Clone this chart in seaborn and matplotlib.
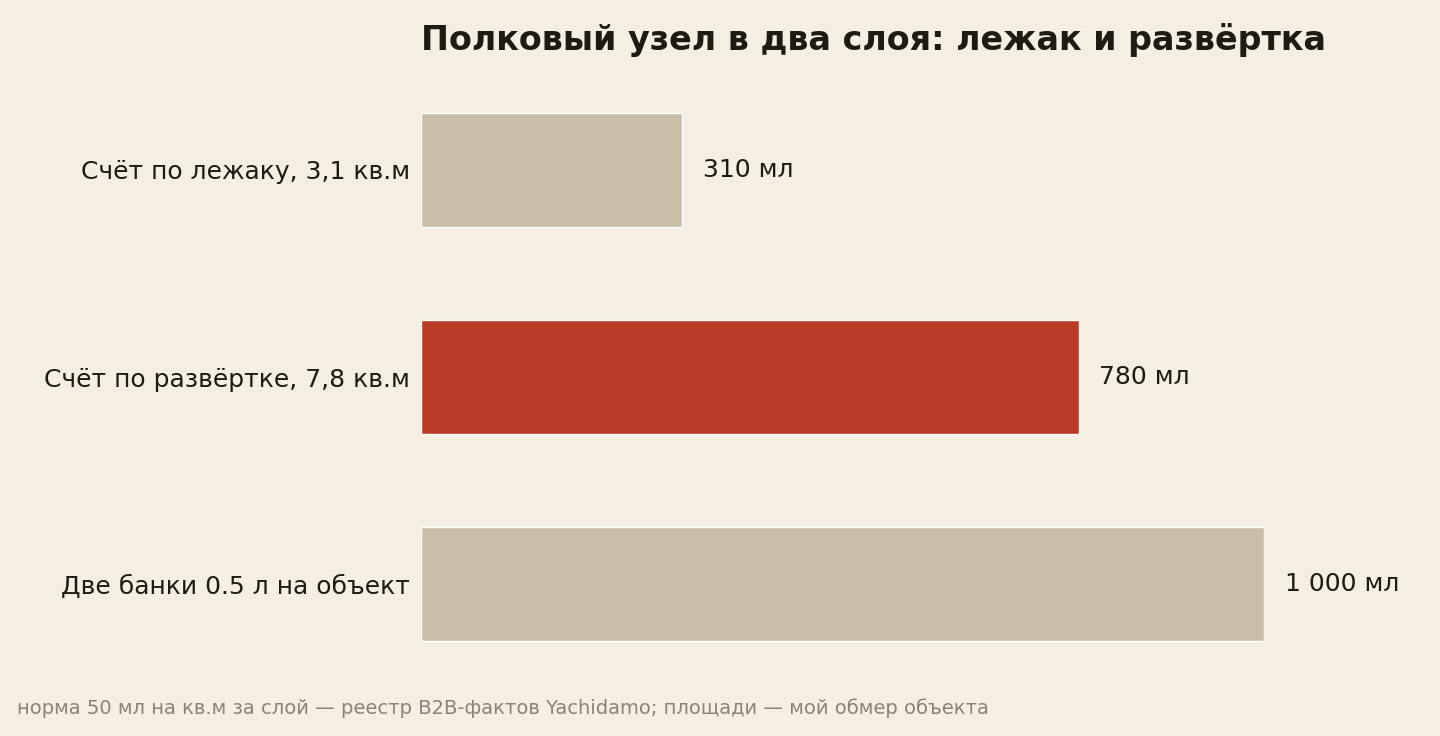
import seaborn as sns
import matplotlib.pyplot as plt
import pandas as pd

# data
categories = ['Счёт по лежаку, 3,1 кв.м', 'Счёт по развёртке, 7,8 кв.м', 'Две банки 0.5 л на объект']
values = [310, 780, 1000]
value_labels = ['310 мл', '780 мл', '1 000 мл']
colors = ['#C9BFA8', '#BB3C26', '#C9BFA8']

bg = '#F5EFE3'
ink = '#1F1A12'

sns.set_theme(style='white')
plt.rcParams['font.family'] = ['DejaVu Sans']

df = pd.DataFrame({'cat': categories, 'val': values})

fig = plt.figure(figsize=(14.4, 7.36), dpi=100, facecolor=bg)
ax = fig.add_axes([421/1440, 1 - 687.5/736, (1264 - 421)/1440, 621/736])
ax.set_facecolor(bg)

sns.barplot(data=df, x='val', y='cat', hue='cat', palette=colors, legend=False,
            width=0.55, saturation=1, ax=ax)

ax.set_xlim(0, 1000)
ax.set_ylim(2.5, -0.5)
ax.set_xlabel('')
ax.set_ylabel('')
ax.set_xticks([])
ax.tick_params(axis='y', length=0, pad=8, labelsize=18, labelcolor=ink)
for s in ax.spines.values():
    s.set_visible(False)

# value labels
for i, (v, lab) in enumerate(zip(values, value_labels)):
    ax.annotate(lab, (v, i), xytext=(15, 0), textcoords='offset points',
                va='center', ha='left', fontsize=18, color=ink, annotation_clip=False)

fig.text(421/1440, 1 - 40/736, 'Полковый узел в два слоя: лежак и развёртка',
         fontsize=24, fontweight='bold', color=ink, va='center', ha='left')
fig.text(17/1440, 1 - 708/736,
         'норма 50 мл на кв.м за слой — реестр B2B-фактов Yachidamo; площади — мой обмер объекта',
         fontsize=14, color='#8A8275', va='center', ha='left')

fig.savefig('out.png', dpi=100, facecolor=bg)
